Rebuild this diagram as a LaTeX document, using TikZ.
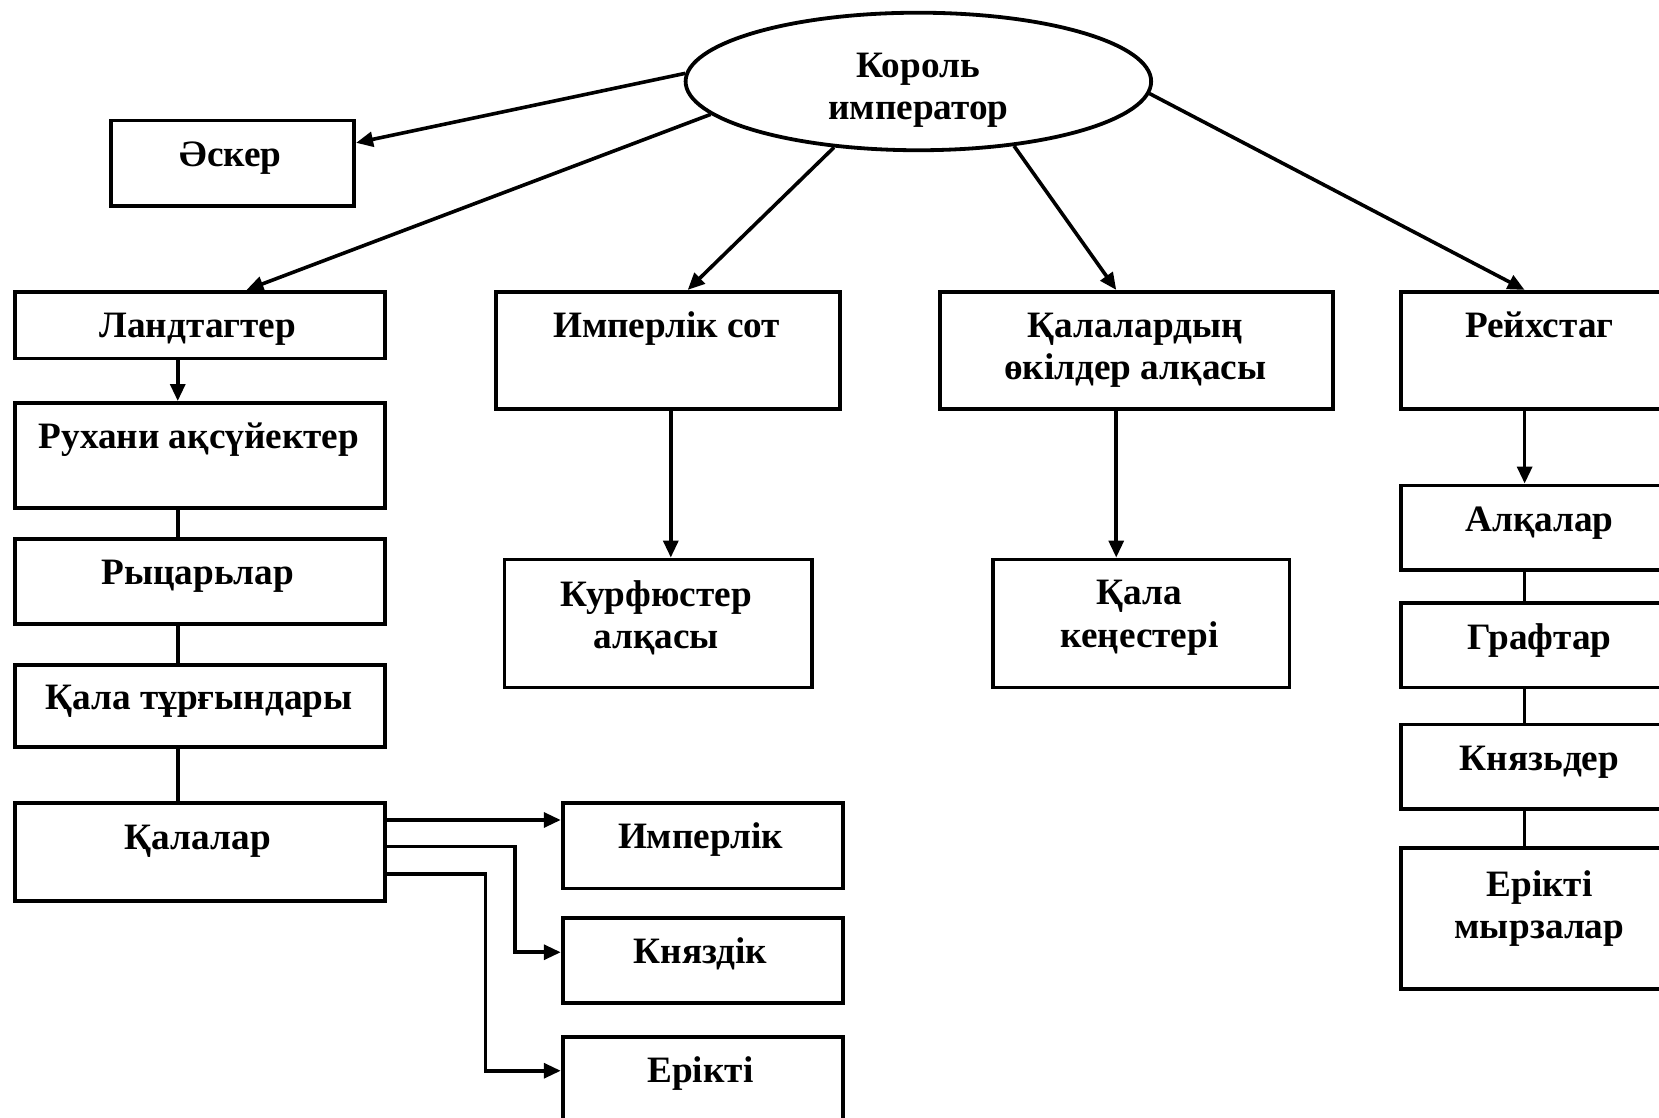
\documentclass[tikz,border=0pt]{standalone}
\usepackage{fontspec}
\setmainfont{Liberation Serif}
\usetikzlibrary{shapes.geometric,arrows.meta}
\begin{document}
\begin{tikzpicture}[x=0.5pt,y=-0.5pt,
  box/.style={draw,line width=1.8pt,rectangle,inner sep=0pt,anchor=north west},
  txt/.style={font=\bfseries\fontsize{17.6}{20}\selectfont,align=center,inner sep=0pt},
  conn/.style={line width=1.7pt},
  arr/.style={line width=1.7pt,-{Triangle[length=8pt,width=7pt]}}]
\clip (0,0) rectangle (1568,1056);
\fill[white] (0,0) rectangle (1568,1056);
% ellipse
\node[draw,line width=1.8pt,ellipse,minimum width=220pt,minimum height=65pt,inner sep=0pt] (kr) at (868,77) {};
\node[txt] (krt) at (868,85) {Король\\император};
% boxes
\node[box,minimum width=115pt,minimum height=40.5pt] (ask) at (103,112) {};
\node[box,minimum width=175pt,minimum height=31.5pt] (land) at (12,274) {};
\node[box,minimum width=175pt,minimum height=49.5pt] (rux) at (12,379) {};
\node[box,minimum width=175pt,minimum height=40pt] (ryc) at (12,508) {};
\node[box,minimum width=175pt,minimum height=38.5pt] (qtur) at (12,627) {};
\node[box,minimum width=175pt,minimum height=46.5pt] (qal) at (12,757) {};
\node[box,minimum width=162.5pt,minimum height=55.5pt] (imsot) at (467,274) {};
\node[box,minimum width=145.5pt,minimum height=60.5pt] (kurf) at (475,527) {};
\node[box,minimum width=185.5pt,minimum height=55.5pt] (qalo) at (887,274) {};
\node[box,minimum width=140pt,minimum height=60.5pt] (qken) at (937,527) {};
\node[box,minimum width=134pt,minimum height=55.5pt] (reich) at (1322,274) {};
\node[box,minimum width=134pt,minimum height=40pt] (alq) at (1322,457) {};
\node[box,minimum width=134pt,minimum height=40pt] (graf) at (1322,568) {};
\node[box,minimum width=134pt,minimum height=40pt] (knz) at (1322,683) {};
\node[box,minimum width=134pt,minimum height=66.5pt] (erm) at (1322,800) {};
\node[box,minimum width=132.5pt,minimum height=40.5pt] (imp) at (530,757) {};
\node[box,minimum width=132.5pt,minimum height=40pt] (knd) at (530,866) {};
\node[box,minimum width=132.5pt,minimum height=50pt] (erk) at (530,978) {};
% texts
\node[txt,anchor=base] (askt) at (218,157) {Әскер};
\node[txt,anchor=base] (landt) at (187,319) {Ландтагтер};
\node[txt,anchor=base] (ruxt) at (188,424) {Рухани ақсүйектер};
\node[txt,anchor=base] (ryct) at (187,552) {Рыцарьлар};
\node[txt,anchor=base] (qturt) at (188,671) {Қала тұрғындары};
\node[txt,anchor=base] (qalt) at (187,803) {Қалалар};
\node[txt,anchor=base] (imsott) at (630,319) {Имперлік сот};
\node[txt] (kurft) at (620,584) {Курфюстер\\алқасы};
\node[txt] (qalot) at (1073,331) {Қалалардың\\өкілдер алқасы};
\node[txt] (qkent) at (1077,584) {Қала\\кеңестері};
\node[txt,anchor=base] (reicht) at (1455,319) {Рейхстаг};
\node[txt,anchor=base] (alqt) at (1455,502) {Алқалар};
\node[txt,anchor=base] (graft) at (1455,614) {Графтар};
\node[txt,anchor=base] (knzt) at (1455,728) {Князьдер};
\node[txt] (ermt) at (1455,859) {Ерікті\\мырзалар};
\node[txt,anchor=base] (impt) at (662,802) {Имперлік};
\node[txt,anchor=base] (kndt) at (662,911) {Княздік};
\node[txt,anchor=base] (erkt) at (662,1023) {Ерікті};
% helper coordinates
\coordinate (xL) at (168,0);
\coordinate (xM) at (634,0);
\coordinate (xC) at (1055,0);
\coordinate (xR) at (1441,0);
% connectors from the ellipse
\draw[arr] (kr.178.7) -- ([yshift=-11.5pt]ask.north east);
\draw[arr] (kr.189.6) -- (land.north -| 233,0);
\draw[arr] (kr.218.5) -- (imsot.north -| 650,0);
\draw[arr] (kr.326.6) -- (qalo.north -| xC);
\draw[arr] (kr.357.9) -- (reich.north -| xR);
% left column
\draw[arr] (land.south -| xL) -- (rux.north -| xL);
\draw[conn] (rux.south -| xL) -- (ryc.north -| xL);
\draw[conn] (ryc.south -| xL) -- (qtur.north -| xL);
\draw[conn] (qtur.south -| xL) -- (qal.north -| xL);
% middle columns
\draw[arr] (imsot.south -| xM) -- (kurf.north -| xM);
\draw[arr] (qalo.south -| xC) -- (qken.north -| xC);
% right column
\draw[arr] (reich.south -| xR) -- (alq.north -| xR);
\draw[conn] (alq.south -| xR) -- (graf.north -| xR);
\draw[conn] (graf.south -| xR) -- (knz.north -| xR);
\draw[conn] (knz.south -| xR) -- (erm.north -| xR);
% cities
\draw[arr] (qal.east |- 0,775) -- (imp.west |- 0,775);
\draw[arr] (qal.east |- 0,800) -| (487,900) -- (knd.west |- 0,900);
\draw[arr] (qal.east |- 0,826) -| (459,1012) -- (erk.west |- 0,1012);
\end{tikzpicture}
\end{document}
